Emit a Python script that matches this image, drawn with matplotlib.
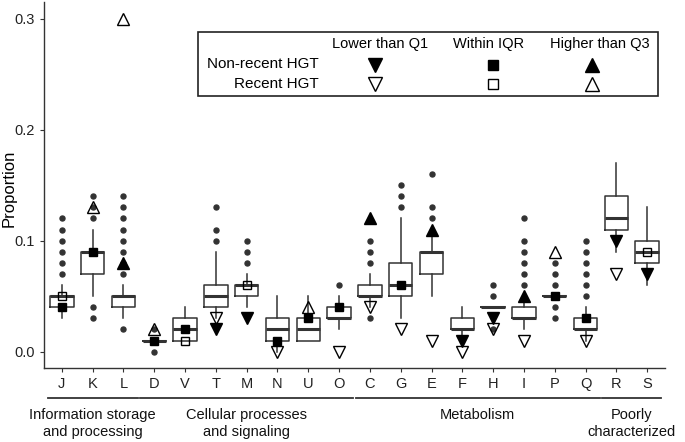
import matplotlib.pyplot as plt
import matplotlib.transforms as mtransforms
from matplotlib.patches import Rectangle

plt.rcParams['font.family'] = ['Liberation Sans', 'DejaVu Sans']

# COG categories and box statistics
cats = ["J", "K", "L", "D", "V", "T", "M", "N", "U", "O",
        "C", "G", "E", "F", "H", "I", "P", "Q", "R", "S"]
q1 = [.04, .07, .04, .01, .01, .04, .05, .01, .01, .03,
      .05, .05, .07, .02, .04, .03, .05, .02, .11, .08]
med = [.05, .09, .05, .01, .02, .05, .06, .02, .02, .03,
       .05, .06, .09, .02, .04, .03, .05, .02, .12, .09]
q3 = [.05, .09, .05, .01, .03, .06, .06, .03, .03, .04,
      .06, .08, .09, .03, .04, .04, .05, .03, .14, .10]
wlo = [.03, .05, .03, .01, .01, .03, .04, .00, .01, .02,
       .04, .03, .05, .01, .04, .02, .05, .01, .09, .06]
whi = [.06, .11, .06, .01, .04, .09, .07, .05, .05, .05,
       .07, .12, .11, .04, .04, .05, .05, .04, .17, .13]
fliers = [
    [.07, .08, .09, .10, .11, .12],
    [.03, .04, .12, .13, .14],
    [.02, .07, .08, .09, .10, .11, .12, .13, .14],
    [.00, .02],
    [],
    [.10, .11, .13],
    [.08, .09, .10],
    [],
    [],
    [.06],
    [.03, .08, .09, .10],
    [.13, .14, .15],
    [.12, .13, .16],
    [],
    [.02, .05, .06],
    [.06, .07, .08, .09, .10, .12],
    [.03, .04, .06, .07, .08],
    [.05, .06, .07, .08, .09, .10],
    [],
    [],
]

# HGT proportions: value and where it falls (lo / in / hi)
nonrecent = [.04, .09, .08, .01, .02, .02, .03, .01, .03, .04,
             .12, .06, .11, .01, .03, .05, .05, .03, .10, .07]
nonrecent_pos = ["in", "in", "hi", "in", "in", "lo", "lo", "in", "in", "in",
                 "hi", "in", "hi", "lo", "lo", "hi", "in", "in", "lo", "lo"]
recent = [.05, .13, .30, .02, .01, .03, .06, .00, .04, .00,
          .04, .02, .01, .00, .02, .01, .09, .01, .07, .09]
recent_pos = ["in", "hi", "hi", "hi", "in", "lo", "in", "lo", "hi", "lo",
              "lo", "lo", "lo", "lo", "lo", "lo", "hi", "lo", "lo", "in"]

groups = ["Information storage\nand processing", "Cellular processes\nand signaling",
          "Metabolism", "Poorly\ncharacterized"]
group_span = [(0, 2), (3, 9), (10, 17), (18, 19)]

shape = {"lo": "v", "in": "s", "hi": "^"}
msize = {"lo": 8, "in": 6, "hi": 8}
leg_size = {"lo": 10, "in": 7.5, "hi": 10}
W, H = 685, 442
dark = "#333333"

fig = plt.figure(figsize=(6.85, 4.42), dpi=100)
ax = fig.add_axes([44 / W, 1 - 368 / H, 621 / W, 366 / H])

stats = []
for i in range(len(cats)):
    stats.append(dict(med=med[i], q1=q1[i], q3=q3[i], whislo=wlo[i],
                      whishi=whi[i], fliers=fliers[i]))
ax.bxp(stats, positions=range(len(cats)), widths=0.76, showcaps=False,
       boxprops=dict(color=dark, linewidth=1.1),
       whiskerprops=dict(color=dark, linewidth=1.1),
       medianprops=dict(color=dark, linewidth=2.2),
       flierprops=dict(marker="o", markerfacecolor=dark, markeredgecolor=dark,
                       markersize=3.6))

for i in range(len(cats)):
    p = nonrecent_pos[i]
    ax.plot(i, nonrecent[i], marker=shape[p], markersize=msize[p], color="black",
            linestyle="none", zorder=4)
    p = recent_pos[i]
    ax.plot(i, recent[i], marker=shape[p], markersize=msize[p], markerfacecolor="none",
            markeredgecolor="black", markeredgewidth=1.0, linestyle="none", zorder=4)

ax.set_xlim(-0.58, 19.58)
ax.set_ylim(-0.0147, 0.315)
ax.set_xticks(range(len(cats)))
ax.set_xticklabels(cats)
ax.set_yticks([0.0, 0.1, 0.2, 0.3])
ax.set_yticklabels(["0.0", "0.1", "0.2", "0.3"])
ax.tick_params(labelsize=10.5, length=3, width=0.8, color=dark, labelcolor="#222222")
ax.set_ylabel("Proportion", fontsize=12)
ax.yaxis.set_label_coords(17 / W, 1 - 188 / H, transform=fig.transFigure)
for s in ["top", "right"]:
    ax.spines[s].set_visible(False)
for s in ["left", "bottom"]:
    ax.spines[s].set_color(dark)
    ax.spines[s].set_linewidth(1.0)

# group brackets under the axis
blend = mtransforms.blended_transform_factory(ax.transData, fig.transFigure)
for name, (a, b) in zip(groups, group_span):
    ax.plot([a - 0.46, b + 0.46], [1 - 398 / H] * 2, color=dark, linewidth=1.3,
            transform=blend, clip_on=False)
    ax.text((a + b) / 2, 1 - 408 / H, name, transform=blend, ha="center", va="top",
            fontsize=10.5, linespacing=1.3, color="#111111")

# hand-made legend box
fig.add_artist(Rectangle((198 / W, 1 - 96 / H), 460 / W, 64 / H, fill=False,
                         edgecolor="#222222", linewidth=1.2))
cols = [("Lower than Q1", 380, 375, "lo"), ("Within IQR", 489, 493, "in"),
        ("Higher than Q3", 600, 592, "hi")]
for label, xt, xm, p in cols:
    fig.text(xt / W, 1 - 44 / H, label, ha="center", va="center", fontsize=10.5)
    ax.plot(xm / W, 1 - 65 / H, marker=shape[p], markersize=leg_size[p], color="black",
            transform=fig.transFigure, clip_on=False)
    ax.plot(xm / W, 1 - 84 / H, marker=shape[p], markersize=leg_size[p],
            markerfacecolor="none", markeredgecolor="black", markeredgewidth=1.0,
            transform=fig.transFigure, clip_on=False)
fig.text(319 / W, 1 - 64 / H, "Non-recent HGT", ha="right", va="center", fontsize=11)
fig.text(319 / W, 1 - 84 / H, "Recent HGT", ha="right", va="center", fontsize=11)

fig.savefig("out.png", dpi=100)
